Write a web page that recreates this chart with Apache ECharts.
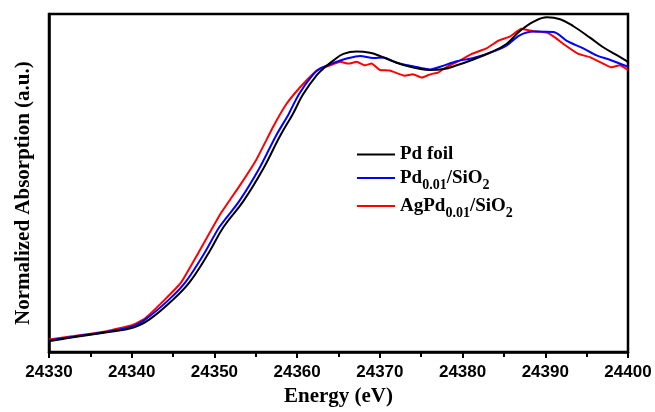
<!DOCTYPE html>
<html>
<head>
<meta charset="utf-8">
<script src="https://cdn.jsdelivr.net/npm/echarts@6/dist/echarts.min.js"></script>
<style>html,body{margin:0;padding:0;background:#fff}#c{width:655px;height:412px}</style>
</head>
<body>
<div id="c"></div>
<script>
var xTicks = [24330, 24340, 24350, 24360, 24370, 24380, 24390, 24400];
var seriesNames = ['Pd foil', 'Pd0.01/SiO2', 'AgPd0.01/SiO2'];

var pdFoil = [
  [24330.1,0.038],[24332.9,0.051],[24337.0,0.068],[24340.2,0.084],[24342.2,0.113],
  [24345.0,0.180],[24347.0,0.240],[24349.3,0.340],[24351.1,0.429],[24353.5,0.518],
  [24355.9,0.629],[24357.9,0.740],[24359.5,0.818],[24360.7,0.884],[24362.4,0.951],
  [24363.4,0.978],[24364.4,1.001],[24365.6,1.023],[24367.2,1.031],[24368.8,1.027],
  [24370.0,1.016],[24371.6,0.998],[24373.2,0.982],[24374.9,0.971],[24376.1,0.968],
  [24377.7,0.971],[24379.3,0.984],[24381.3,1.004],[24383.3,1.027],[24385.3,1.057],
  [24386.9,1.101],[24388.6,1.134],[24390.2,1.149],[24391.8,1.142],[24393.4,1.118],
  [24395.4,1.079],[24397.0,1.046],[24398.6,1.020],[24400.0,0.996]
];
var pdSiO2 = [
  [24330.0,0.040],[24333.0,0.053],[24337.0,0.070],[24340.0,0.087],[24341.7,0.113],
  [24344.5,0.180],[24346.5,0.240],[24348.8,0.340],[24350.6,0.429],[24353.0,0.518],
  [24355.4,0.629],[24357.4,0.740],[24359.0,0.818],[24360.2,0.884],[24361.9,0.951],
  [24362.9,0.975],[24364.8,0.996],[24366.0,1.007],[24367.6,1.016],[24369.2,1.009],
  [24370.4,1.011],[24372.0,0.993],[24374.0,0.981],[24376.1,0.970],[24377.3,0.979],
  [24379.3,0.998],[24381.3,1.009],[24383.7,1.031],[24385.3,1.051],[24386.9,1.087],
  [24388.6,1.100],[24391.0,1.098],[24392.6,1.068],[24394.6,1.042],[24396.2,1.018],
  [24397.8,1.003],[24400.0,0.979]
];
var agPdSiO2 = [
  [24330.0,0.043],[24333.0,0.055],[24337.0,0.072],[24340.0,0.092],[24341.5,0.113],
  [24344.0,0.180],[24346.0,0.240],[24348.05,0.340],[24350.7,0.473],[24353.1,0.573],
  [24355.1,0.662],[24357.1,0.773],[24358.7,0.851],[24360.3,0.907],[24362.0,0.957],
  [24362.8,0.973],[24364.0,0.984],[24365.2,0.996],[24366.2,0.990],[24367.2,0.996],
  [24368.2,0.984],[24369.0,0.990],[24370.0,0.968],[24371.2,0.966],[24373.0,0.948],
  [24374.0,0.953],[24375.1,0.942],[24376.1,0.953],[24377.1,0.960],[24378.1,0.979],
  [24379.7,1.001],[24381.1,1.023],[24382.9,1.042],[24384.3,1.068],[24385.7,1.082],
  [24387.1,1.109],[24388.6,1.101],[24390.2,1.096],[24391.2,1.079],[24392.2,1.057],
  [24394.0,1.023],[24395.4,1.012],[24397.0,0.990],[24398.0,0.977],[24399.0,0.984],
  [24400.0,0.968]
];

var richLabels = {
  'Pd foil': '{b|Pd foil}',
  'Pd0.01/SiO2': '{b|Pd}{s|0.01}{b|/SiO}{s|2}',
  'AgPd0.01/SiO2': '{b|AgPd}{s|0.01}{b|/SiO}{s|2}'
};

var chart = echarts.init(document.getElementById('c'), null, {renderer: 'canvas'});
var serif = '"Liberation Serif", "Times New Roman", serif';
chart.setOption({
  animation: false,
  backgroundColor: '#fff',
  grid: {left: 49, right: 27, top: 14, bottom: 50, show: true, borderColor: '#000', borderWidth: 2.5},
  legend: {
    orient: 'vertical', left: 357, top: 145, padding: 0, itemWidth: 38, itemHeight: 2, itemGap: 4.5,
    icon: 'rect',
    data: seriesNames,
    formatter: function (n) { return richLabels[n]; },
    textStyle: {
      color: '#000',
      rich: {
        b: {fontFamily: serif, fontWeight: 'bold', fontSize: 19, color: '#000', lineHeight: 28, verticalAlign: 'middle'},
        s: {fontFamily: serif, fontWeight: 'bold', fontSize: 14, color: '#000', lineHeight: 28, verticalAlign: 'bottom'}
      }
    }
  },
  xAxis: {
    type: 'value', min: xTicks[0], max: xTicks[xTicks.length - 1], interval: 10,
    name: 'Energy (eV)', nameLocation: 'middle', nameGap: 29,
    nameTextStyle: {fontFamily: serif, fontWeight: 'bold', fontSize: 21, color: '#000'},
    axisLine: {lineStyle: {color: '#000', width: 2.5}},
    axisTick: {show: true, inside: false, length: 6, lineStyle: {color: '#000', width: 2}},
    minorTick: {show: true, splitNumber: 2, length: 5, lineStyle: {color: '#000', width: 2}},
    axisLabel: {margin: 12, fontFamily: '"Liberation Sans", Arial, sans-serif', fontWeight: 'bold', fontSize: 17, color: '#000',
      formatter: function (v) { return String(v); }},
    splitLine: {show: false}
  },
  yAxis: {
    type: 'value', min: 0, max: 1.16,
    name: 'Normalized Absorption (a.u.)', nameLocation: 'middle', nameGap: 15,
    nameTextStyle: {fontFamily: serif, fontWeight: 'bold', fontSize: 21, color: '#000', padding: [0, 20, 0, 0]},
    axisLine: {show: true, lineStyle: {color: '#000', width: 2.5}},
    axisTick: {show: false}, axisLabel: {show: false}, splitLine: {show: false}
  },
  series: [
    {name: seriesNames[0], type: 'line', data: pdFoil, smooth: 0.4, showSymbol: false, lineStyle: {color: '#000', width: 2}, itemStyle: {color: '#000'}, z: 3},
    {name: seriesNames[1], type: 'line', data: pdSiO2, smooth: 0.3, showSymbol: false, lineStyle: {color: '#0000ff', width: 2}, itemStyle: {color: '#0000ff'}, z: 2},
    {name: seriesNames[2], type: 'line', data: agPdSiO2, smooth: 0.1, showSymbol: false, lineStyle: {color: '#ff0000', width: 2}, itemStyle: {color: '#ff0000'}, z: 1}
  ]
});
</script>
</body>
</html>
